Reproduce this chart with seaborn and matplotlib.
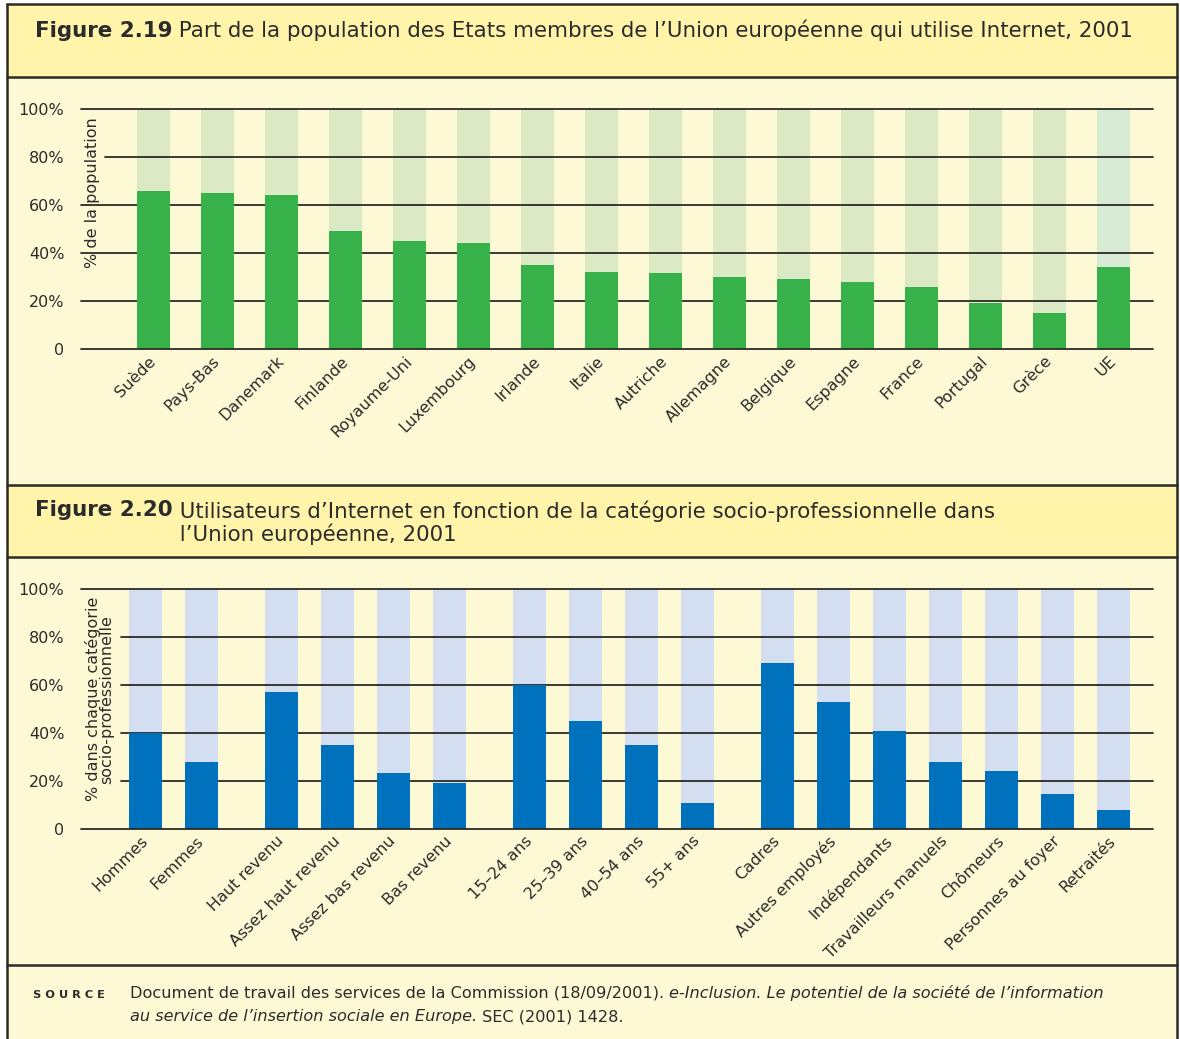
import matplotlib
matplotlib.use("Agg")
import matplotlib.pyplot as plt
import pandas as pd
import seaborn as sns
from matplotlib.patches import Rectangle
from matplotlib.lines import Line2D

# Figure 2.19 - share of population using Internet, 2001
pays = ['Suède', 'Pays-Bas', 'Danemark', 'Finlande', 'Royaume-Uni', 'Luxembourg',
        'Irlande', 'Italie', 'Autriche', 'Allemagne', 'Belgique', 'Espagne',
        'France', 'Portugal', 'Grèce', 'UE']
part_internet = [66, 65, 64, 49, 45, 44, 35, 32, 31.5, 30, 29, 28, 26, 19, 15, 34]

# Figure 2.20 - users by socio-professional category (groups separated by a gap)
categories = [
    ['Hommes', 'Femmes'],
    ['Haut revenu', 'Assez haut revenu', 'Assez bas revenu', 'Bas revenu'],
    ['15–24 ans', '25–39 ans', '40–54 ans', '55+ ans'],
    ['Cadres', 'Autres employés', 'Indépendants', 'Travailleurs manuels',
     'Chômeurs', 'Personnes au foyer', 'Retraités'],
]
utilisateurs = [
    [40, 28],
    [57, 35, 23.5, 19],
    [60, 45, 35, 11],
    [69, 53, 41, 28, 24, 14.5, 8],
]

y_ticks = [0, 20, 40, 60, 80, 100]
y_labels = ['0', '20%', '40%', '60%', '80%', '100%']

# colours
HEADER = '#FFF4A9'
BG = '#FEF9D5'
BORDER = '#2b2a26'
TEXT = '#2b2b2b'
GREEN = '#37B24A'
GREEN_LIGHT = '#DBEAC4'
GREEN_LIGHT_UE = '#D8ECD5'
BLUE = '#0071BC'
BLUE_LIGHT = '#D3DEF0'

sns.set_style('white')
plt.rcParams['font.family'] = ['DejaVu Sans']

W, H = 1180, 1039
fig = plt.figure(figsize=(W / 100, H / 100), dpi=100)
fig.patch.set_facecolor('white')


def band(y0, y1, color):
    fig.add_artist(Rectangle((7 / W, 1 - y1 / H), 1170 / W, (y1 - y0) / H,
                             transform=fig.transFigure, facecolor=color,
                             edgecolor='none', zorder=-10))


def rule(y, lw=1.8):
    fig.add_artist(Line2D([7 / W, 1177 / W], [1 - y / H] * 2, transform=fig.transFigure,
                          color=BORDER, lw=lw, zorder=-5))


band(4, 77, HEADER)
band(77, 485, BG)
band(485, 557, HEADER)
band(557, 965, BG)
band(965, H, BG)
for y in [4, 77, 485, 557, 965]:
    rule(y)
for x in [7, 1177]:
    fig.add_artist(Line2D([x / W] * 2, [0, 1 - 4 / H], transform=fig.transFigure,
                          color=BORDER, lw=1.8, zorder=-5))

LS = 11.5  # tick / axis label size


def style_axes(ax, cut):
    ax.patch.set_visible(False)
    for s in ax.spines.values():
        s.set_visible(False)
    ax.set_ylim(0, 100)
    ax.set_yticks(y_ticks, y_labels)
    ax.tick_params(axis='y', length=0, pad=12, labelsize=LS, labelcolor=TEXT)
    ax.tick_params(axis='x', length=0, pad=7, labelsize=LS, labelcolor=TEXT)
    ax.set_xlabel('')
    ax.set_ylabel('')
    for v in y_ticks:
        ax.axhline(v, xmin=cut.get(v, 0), color=BORDER, lw=1.3,
                   zorder=5 if v == 0 else 2, clip_on=False)
    plt.setp(ax.get_xticklabels(), rotation=45, ha='right', va='center',
             rotation_mode='anchor')


bar_kw = dict(saturation=1, errorbar=None, linewidth=0, edgecolor='none')

# ---- panel 1
ax1 = fig.add_axes([81 / W, 1 - 349 / H, 1072 / W, 240 / H])
df1 = pd.DataFrame({'pays': pays, 'part': part_internet})
df1['total'] = 100
fond1 = [GREEN_LIGHT] * (len(pays) - 1) + [GREEN_LIGHT_UE]
sns.barplot(data=df1, x='pays', y='total', hue='pays', palette=fond1, legend=False,
            width=0.516, ax=ax1, zorder=1, **bar_kw)
sns.barplot(data=df1, x='pays', y='part', color=GREEN, width=0.516,
            ax=ax1, zorder=3, **bar_kw)
ax1.set_xlim(-1.133, 15.617)
style_axes(ax1, {80: 0.0224})

# ---- panel 2
gap = 0.43
rows = []
k = 0
for g, (labs, vals) in enumerate(zip(categories, utilisateurs)):
    for lab, v in zip(labs, vals):
        rows.append({'pos': k + g * gap, 'cat': lab, 'part': v, 'total': 100})
        k += 1
df2 = pd.DataFrame(rows)
ax2 = fig.add_axes([81 / W, 1 - 829 / H, 1072 / W, 240 / H])
sns.barplot(data=df2, x='pos', y='total', native_scale=True, color=BLUE_LIGHT,
            width=0.589, ax=ax2, zorder=1, **bar_kw)
sns.barplot(data=df2, x='pos', y='part', native_scale=True, color=BLUE,
            width=0.589, ax=ax2, zorder=3, **bar_kw)
ax2.set_xticks(df2['pos'], df2['cat'])
ax2.set_xlim(-1.152, df2['pos'].iloc[-1] + 0.705)
style_axes(ax2, {20: 0.0373, 40: 0.0373, 60: 0.0373, 80: 0.0373})

# y axis titles
fig.text(92 / W, 1 - 117 / H, '% de la population', rotation=90, ha='center',
         va='top', fontsize=LS, color=TEXT)
fig.text(100 / W, 1 - 597 / H, '% dans chaque catégorie\nsocio-professionnelle',
         rotation=90, ha='center', va='top', multialignment='center',
         linespacing=0.85, fontsize=LS, color=TEXT)

# headers
TS = 15.4
t1 = fig.text(35 / W, 1 - 37 / H, 'Figure 2.19', fontsize=TS, fontweight='bold',
              color=TEXT, va='baseline')
ax1.annotate(' Part de la population des Etats membres de l’Union européenne qui utilise Internet, 2001',
             xy=(1, 0), xycoords=t1, ha='left', va='bottom', fontsize=TS,
             color=TEXT, annotation_clip=False)
t2 = fig.text(35 / W, 1 - 516 / H, 'Figure 2.20', fontsize=TS, fontweight='bold',
              color=TEXT, va='baseline')
ax2.annotate(' Utilisateurs d’Internet en fonction de la catégorie socio-professionnelle dans\n'
             ' l’Union européenne, 2001',
             xy=(1, 1), xycoords=t2, ha='left', va='top', fontsize=TS,
             color=TEXT, linespacing=1.12, annotation_clip=False)

# source
FS = 11.6
fig.text(33 / W, 1 - 998 / H, 'S O U R C E', fontsize=8.2, fontweight='bold',
         color=TEXT, va='baseline')
s1 = fig.text(130 / W, 1 - 998 / H,
              'Document de travail des services de la Commission (18/09/2001). ',
              fontsize=FS, color=TEXT, va='baseline')
ax2.annotate('e-Inclusion. Le potentiel de la société de l’information', xy=(1, 0),
             xycoords=s1, ha='left', va='bottom', fontsize=FS, style='italic',
             color=TEXT, annotation_clip=False)
s2 = fig.text(130 / W, 1 - 1021 / H, 'au service de l’insertion sociale en Europe.',
              fontsize=FS, style='italic', color=TEXT, va='baseline')
ax2.annotate(' SEC (2001) 1428.', xy=(1, 0), xycoords=s2, ha='left', va='bottom',
             fontsize=FS, color=TEXT, annotation_clip=False)

fig.savefig('out.png', dpi=100, facecolor=fig.get_facecolor())
